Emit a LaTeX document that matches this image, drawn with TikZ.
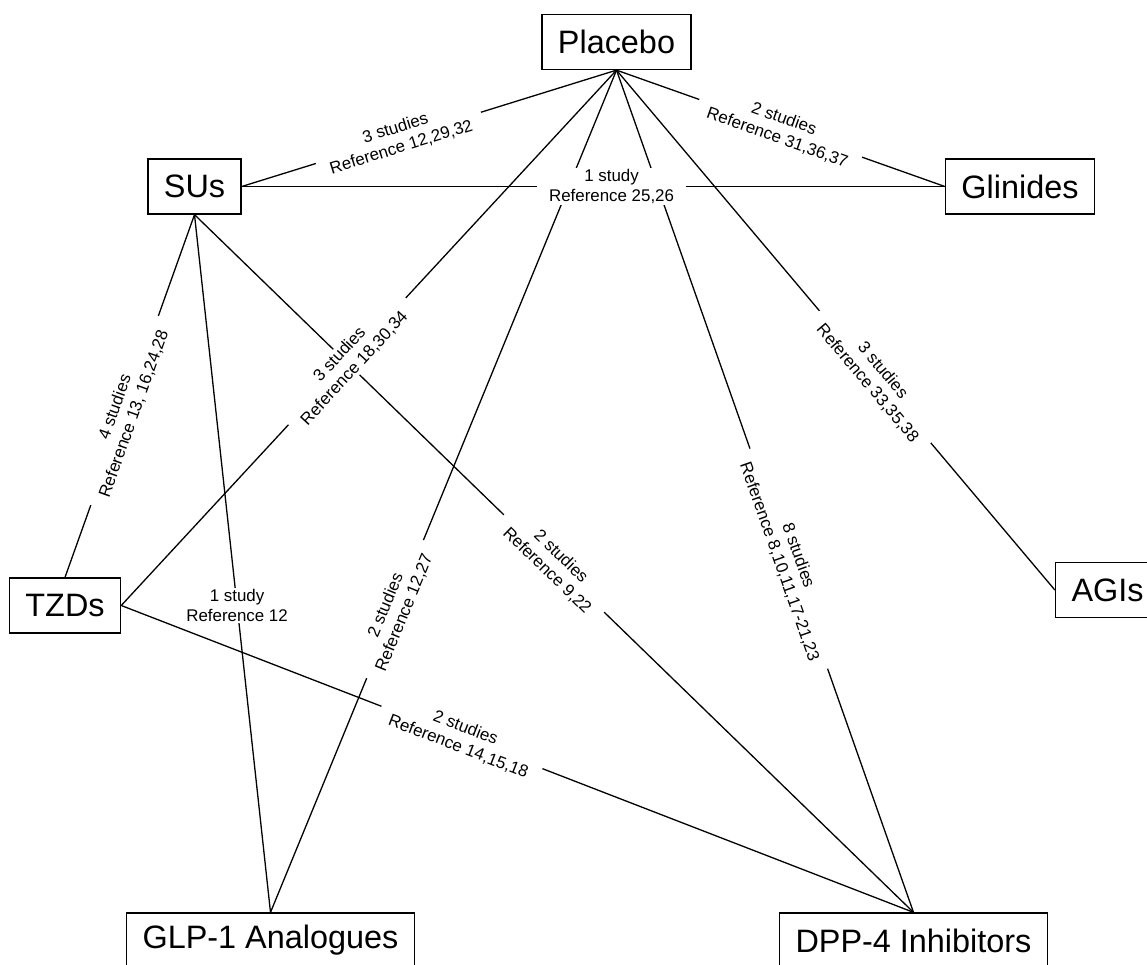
\documentclass[tikz,border=0pt]{standalone}
\usepackage{fontspec}
\setmainfont{Liberation Sans}
\begin{document}
\begin{tikzpicture}[x=1pt,y=-1pt,
  box/.style={draw, line width=1.3pt, font=\fontsize{32.4}{38}\selectfont,
              inner xsep=16pt, inner ysep=0pt, minimum height=55pt},
  link/.style={line width=1.3pt},
  lab/.style={fill=white, font=\fontsize{16.9}{20}\selectfont, align=center,
              inner xsep=12pt, inner ysep=1pt},
  along/.style={lab, sloped}]
\useasboundingbox (0,0) rectangle (1147,965);
\clip (0,0) rectangle (1147,965);

% treatments
\node[box] (pl)  at (616.5,42)    {Placebo};
\node[box] (su)  at (194.5,186.5) {SUs};
\node[box] (gl)  at (1020,186.5)  {Glinides};
\node[box] (tz)  at (65,605.5)    {TZDs};
\node[box] (ag)  at (1107.5,590)  {AGIs};
\node[box] (glp) at (270.5,940.5) {GLP-1 Analogues};
\node[box] (dpp) at (913.5,940.5) {DPP-4 Inhibitors};

% comparisons
\draw[link] (su.east)  -- (pl.south);
\draw[link] (su.east)  -- (gl.west);
\draw[link] (pl.south) -- (gl.west);
\draw[link] (su.south) -- (tz.north);
\draw[link] (tz.east)  -- (pl.south);
\draw[link] (su.south) -- (glp.north);
\draw[link] (pl.south) -- (glp.north);
\draw[link] (pl.south) -- (dpp.north);
\draw[link] (su.south) -- (dpp.north);
\draw[link] (tz.east)  -- (dpp.north);
\draw[link] (pl.south) -- (ag.west);

% study counts, drawn last so their white backing covers crossing lines
\path (su.east)  -- node[along, pos=0.418] {3 studies\\Reference 12,29,32} (pl.south);
\path (su.east)  -- node[lab,   pos=0.526] {1 study\\Reference 25,26} (gl.west);
\path (pl.south) -- node[along, pos=0.5]   {2 studies\\Reference 31,36,37} (gl.west);
\path (su.south) -- node[along, pos=0.54]  {4 studies\\Reference 13, 16,24,28} (tz.north);
\path (tz.east)  -- node[along, pos=0.456] {3 studies\\Reference 18,30,34} (pl.south);
\path (su.south) -- node[lab,   pos=0.56]  {1 study\\Reference 12} (glp.north);
\path (pl.south) -- node[along, pos=0.64]  {2 studies\\Reference 12,27} (glp.north);
\path (pl.south) -- node[along, pos=0.58]  {8 studies\\Reference 8,10,11,17-21,23} (dpp.north);
\path (su.south) -- node[along, pos=0.5]   {2 studies\\Reference 9,22} (dpp.north);
\path (tz.east)  -- node[along, pos=0.43]  {2 studies\\Reference 14,15,18} (dpp.north);
\path (pl.south) -- node[along, pos=0.59]  {3 studies\\Reference 33,35,38} (ag.west);
\end{tikzpicture}
\end{document}
